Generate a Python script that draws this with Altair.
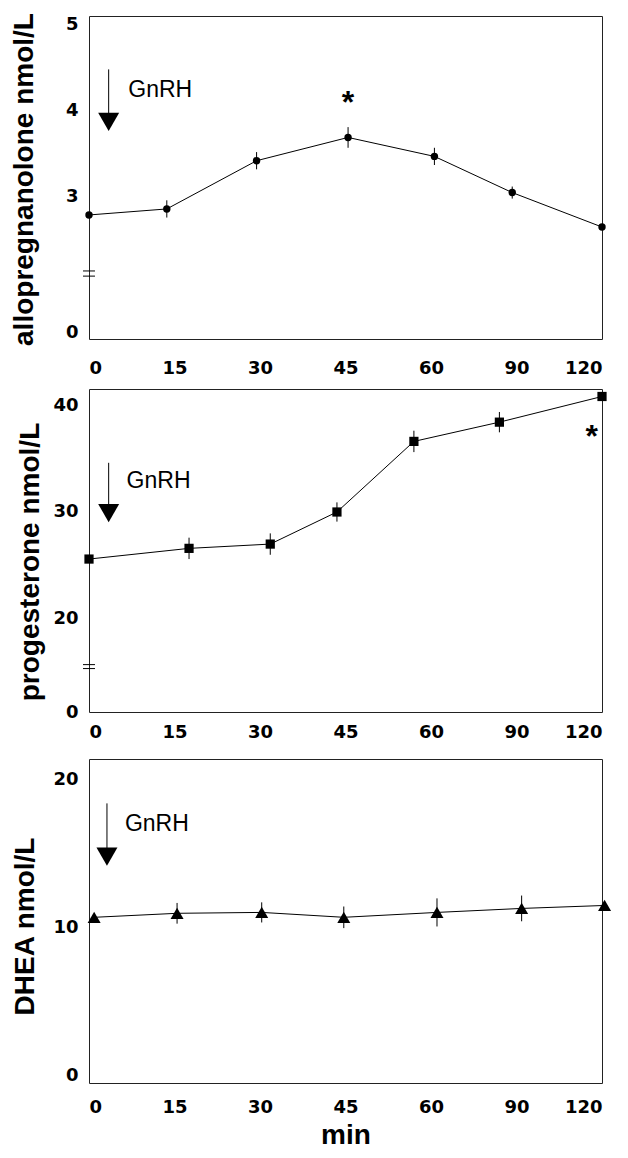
import altair as alt
import pandas as pd

# shared x axis: evenly spaced sampling times
x_tick_pos = [0, 1, 2, 3, 4, 5, 6]
x_tick_labels = ["0", "15", "30", "45", "60", "90", "120"]

# panel 1: allopregnanolone (axis position, value, error)
allo_x = [0.0, 0.91, 1.96, 3.03, 4.04, 4.95, 6.0]
allo_y = [2.79, 2.86, 3.42, 3.69, 3.47, 3.05, 2.65]
allo_err = [0.0, 0.10, 0.10, 0.12, 0.10, 0.07, 0.0]
allo_ytick_vals = [1.43, 3, 4, 5]
allo_ytick_labels = ["0", "3", "4", "5"]
allo_ydomain = [1.35, 5.10]

# panel 2: progesterone
prog_x = [0.0, 1.17, 2.12, 2.90, 3.80, 4.80, 6.0]
prog_y = [25.6, 26.6, 27.0, 30.0, 36.6, 38.4, 40.8]
prog_err = [0.0, 1.0, 1.0, 0.9, 1.0, 0.95, 0.0]
prog_ytick_vals = [11.3, 20, 30, 40]
prog_ytick_labels = ["0", "20", "30", "40"]
prog_ydomain = [11.3, 41.5]

# panel 3: DHEA
dhea_x = [0.06, 1.03, 2.02, 2.98, 4.07, 5.06, 6.03]
dhea_y = [10.7, 10.97, 11.03, 10.7, 11.03, 11.3, 11.5]
dhea_err = [0.0, 0.7, 0.68, 0.73, 0.95, 0.87, 0.0]
dhea_ytick_vals = [0, 10, 20]
dhea_ytick_labels = ["0", "10", "20"]
dhea_ydomain = [-0.5, 21.4]

# annotations (per panel)
arrow_x = [0.23, 0.23, 0.21]
arrow_top = [4.48, 34.6, 18.4]
arrow_head = [3.87, 29.9, 14.8]
gnrh_x = [0.46, 0.44, 0.42]
gnrh_y = [4.24, 32.9, 17.0]
star_x = [3.03, 5.88]
star_y = [4.19, 37.9]
break_y = [[2.14, 2.08], [15.73, 15.36]]

FONT = "Liberation Sans"
TICKFONT = "DejaVu Sans"


def label_expr(vals, labels):
    expr = "''"
    for v, l in zip(reversed(vals), reversed(labels)):
        expr = f"(datum.value == {v}) ? '{l}' : ({expr})"
    return expr


def make_panel(xs, ys, errs, ytv, ytl, ydom, title, shape, size, idx,
               label_pad, title_x, title_y_off, xtitle=None, height=323):
    def X(field="x"):
        return alt.X(
            f"{field}:Q",
            scale=alt.Scale(domain=[0, 6], nice=False, zero=False),
            axis=alt.Axis(
                values=x_tick_pos,
                labelExpr=label_expr(x_tick_pos, x_tick_labels),
                title=xtitle if xtitle else None,
                labelPadding=label_pad,
                titlePadding=5,
                titleFontSize=28,
                titleFont=FONT,
                titleFontWeight="bold",
            ),
        )

    def Y(field="y"):
        return alt.Y(
            f"{field}:Q",
            scale=alt.Scale(domain=ydom, nice=False, zero=False),
            axis=alt.Axis(
                values=ytv,
                labelExpr=label_expr(ytv, ytl),
                title=title,
                titleX=title_x,
                titleY=height / 2 + title_y_off,
                titleBaseline="middle",
                titleAngle=-90,
                titleFontSize=28,
                titleFont=FONT,
                titleFontWeight="bold",
                labelPadding=11,
            ),
        )

    df = pd.DataFrame({"x": xs, "y": ys,
                       "lo": [y - e for y, e in zip(ys, errs)],
                       "hi": [y + e for y, e in zip(ys, errs)]})
    line = alt.Chart(df).mark_line(color="black", strokeWidth=1).encode(x=X(), y=Y())
    err = alt.Chart(df).mark_rule(color="black", strokeWidth=1).encode(
        x=X(), y=Y("lo"), y2="hi")
    pts = alt.Chart(df).mark_point(filled=True, shape=shape, size=size,
                                   color="black", opacity=1).encode(x=X(), y=Y())

    adf = pd.DataFrame({"x": [arrow_x[idx]], "y": [arrow_top[idx]],
                        "yh": [arrow_head[idx]]})
    arrow_line = alt.Chart(adf).mark_rule(color="black", strokeWidth=1).encode(
        x=X(), y=Y(), y2="yh")
    arrow_head_m = alt.Chart(adf).mark_point(
        filled=True, shape="triangle-down", size=441, color="black", opacity=1
    ).encode(x=X(), y=Y("yh"))
    gdf = pd.DataFrame({"x": [gnrh_x[idx]], "y": [gnrh_y[idx]], "t": ["GnRH"]})
    gtext = alt.Chart(gdf).mark_text(
        align="left", baseline="middle", font=FONT, fontSize=23,
        fontWeight=500, color="black"
    ).encode(x=X(), y=Y(), text="t:N")

    layers = [line, err, pts, arrow_line, arrow_head_m, gtext]
    if idx < len(star_x):
        sdf = pd.DataFrame({"x": [star_x[idx]], "y": [star_y[idx]], "t": ["*"]})
        layers.append(alt.Chart(sdf).mark_text(
            align="center", baseline="middle", font=FONT, fontSize=32,
            fontWeight="bold", dy=9, color="black").encode(x=X(), y=Y(), text="t:N"))
    if idx < len(break_y):
        bdf = pd.DataFrame({"x": [-0.07, -0.07], "x2": [0.07, 0.07],
                            "y": break_y[idx]})
        layers.append(alt.Chart(bdf).mark_rule(color="black", strokeWidth=1).encode(
            x=X(), x2="x2", y=Y()))
    return alt.layer(*layers).properties(width=513, height=height)


p1 = make_panel(allo_x, allo_y, allo_err, allo_ytick_vals, allo_ytick_labels,
                allo_ydomain, "allopregnanolone nmol/L", "circle", 55, 0,
                label_pad=20, title_x=-64.5, title_y_off=1.5)
p2 = make_panel(prog_x, prog_y, prog_err, prog_ytick_vals, prog_ytick_labels,
                prog_ydomain, "progesterone nmol/L", "square", 85, 1,
                label_pad=11, title_x=-59, title_y_off=11)
p3 = make_panel(dhea_x, dhea_y, dhea_err, dhea_ytick_vals, dhea_ytick_labels,
                dhea_ydomain, "DHEA nmol/L", "triangle-up", 169, 2,
                label_pad=15, title_x=-63.5, title_y_off=5, xtitle="min", height=324)

chart = alt.vconcat(alt.vconcat(p1, p2, spacing=10), p3, spacing=16).properties(
    padding={"top": 4, "left": 2, "right": 5, "bottom": 5}
).configure_view(stroke="#222", strokeWidth=1).configure_axis(
    domain=False, ticks=False, grid=False,
    labelFont=TICKFONT, labelFontWeight="bold", labelColor="black",
    titleColor="black",
).configure_axisX(labelFontSize=18).configure_axisY(labelFontSize=18)

chart.save("out.html", embed_options={"renderer": "svg", "actions": False})
